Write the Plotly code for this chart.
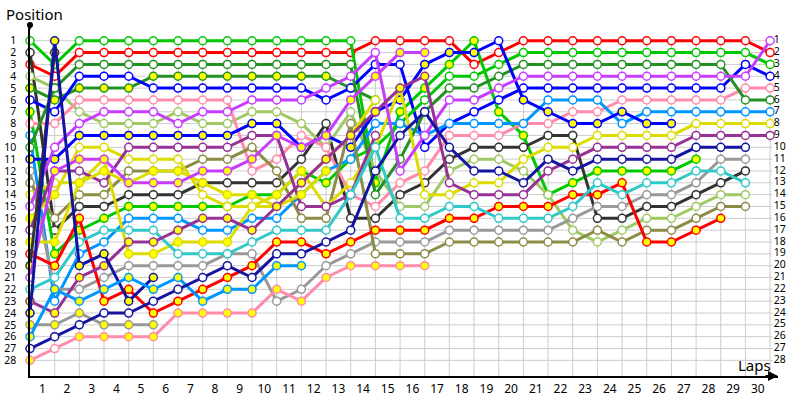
import plotly.graph_objects as go

laps = list(range(0, 31))
lap_labels = [str(i) for i in range(1, 31)]
positions = list(range(1, 29))

# position per lap (index 0 = grid), fill: o = open, y = yellow
red_a = [3,4,2,2,2,2,2,2,2,2,2,2,2,2,1,1,1,1,3,2,1,1,1,1,1,1,1,1,1,1,2]
red_a_fill = "o"
green_a = [1,3,1,1,1,1,1,1,1,1,1,1,1,1,13,7,5,3,1,7,9,14,13,12,12,12,12,11]
green_a_fill = "oooooooooooooo" + "y"
black_a = [2,17,15,15,14,14,14,13,13,13,13,11,8,16,16,14,13,11,10,10,10,9,9,16,16,15,15,14,13,12]
black_a_fill = "o"
lgreen_a = [4,5,7,8,8,8,7,8,8,7,7,8,10,7,12,15,15,12,11,11,12,14,17,18,17,16,16,15,14,14]
lgreen_a_fill = "o"
dkgreen_a = [5,6,5,5,5,4,4,4,4,4,4,4,4,5,6]
dkgreen_a_fill = "y"
blue_a = [6,7,4,4,4,5,5,5,5,5,5,5,6,5,3,3,10,8,7,6,5,5,5,5,5,5,5,5,5,3,4]
blue_a_fill = "o"
green_b = [7,19,17,16,15,15,15,15,15,14,14,12,13,11,10,8,6,4,4,3,2,2,2,2,2,2,2,2,2,2,3]
green_b_fill = "yyyyyyyyyyyyyyyy" + "o"
pink_a = [8,8,6,6,6,6,6,6,6,12,11,9,10,14,15,13,12,9,9,9,8,8,7,7,6,6,6,6,6,5,5]
pink_a_fill = "o"
azure_a = [9,23,19,18,16,16,16,17,17,16,16,14,12,11,8,8,9,8,8,8,8,6,6,6,8,7,7,7,7,7,7]
azure_a_fill = "o"
dkgreen_b = [10,5,3,3,3,3,3,3,3,3,3,3,3,3,14,11,7,5,5,4,3,3,3,3,3,3,3,3,3,6,6]
dkgreen_b_fill = "o"
blue_b = [11,11,9,9,9,9,9,9,9,8,8,10,9,10,7,6,3,2,2,1,6,7,8,8,7,8,8]
blue_b_fill = "yyyyyyyyyyyyyyyyyyyoy"
gray_a = [12,22,22,21,20,20,20,20,19,19,23,22,20,19,18,18,18,17,17,17,17,17,16,15,15,14,14,13,11,11]
gray_a_fill = "o"
olive_a = [13,16,14,14,12,12,12,11,11,10,12,16,16,8,19,19,19,18,18,18,18,18,18,17,18,17,17,16,15,15]
olive_a_fill = "o"
yellow_a = [14,13,13,11,19,19,18,18,18,15,14,12,15,13,10,5,14,14,13,13,11,10,10,9,9,9,9,8,8,8,8]
yellow_a_fill = "ooooyyyyyyyyoo" + "o"
lpurple_a = [15,10,8,7,7,7,8,7,7,6,6,6,5,4,2,12,9,6,6,5,4,4,4,4,4,4,4,4,4,4,1]
lpurple_a_fill = "o"
yellow_b = [16,14,10,10,11,11,11,14,15,15,15,13,11,9,6]
yellow_b_fill = "yyo"
purple_b = [17,12,12,13,10,10,10,10,10,9,9,15,15,14,9]
purple_b_fill = "o"
yellow_c = [18,18,13,12,13,12,12,13,14,14,15,14,12]
yellow_c_fill = "y"
red_b = [19,20,16,23,22,24,23,22,21,20,18,18,19,18,17,17,17,16,16,15,15,15,14,14,13,18,18,17,16]
red_b_fill = "oy"
black_b = [20,2]
black_b_fill = "y"
lpurple_b = [21,12,11,11,13,13,13,12,12,11,9,10,9,6,4,2,2]
lpurple_b_fill = "oy"
cyan_a = [22,21,18,17,17,17,19,19,19,18,17,17,17,14,10,16,16,15,15,16,16,16,15,13,14,13,13,12,12,13]
cyan_a_fill = "o"
purple_a = [23,24,21,20,18,18,17,16,16,17,15,13,11,9,7,5,4,13,14,14,14,12,11,10,10,10,10,9,9,9,9]
purple_a_fill = "yyyyyyyyyyyyyyyyy" + "o"
navy_a = [24,1,20,19,23,21]
navy_a_fill = "y"
gray_b = [25,25,24,25,25,25]
gray_b_fill = "y"
azure_b = [26,22,23,22,21,22,21,23,22,22,20,20]
azure_b_fill = "y"
navy_b = [27,26,25,24,24,23,22,21,20,21,19,19,18,17,12,9,7,10,12,12,13,11,12,11,11,11,11,10,10,10]
navy_b_fill = "o"
pink_b = [28,27,26,26,26,26,24,24,24,24,22,23,21,20,20,20,20]
pink_b_fill = "yo" + "y"

drivers = [
    (red_a, red_a_fill, "#ff0000"),
    (green_a, green_a_fill, "#00c800"),
    (black_a, black_a_fill, "#333333"),
    (lgreen_a, lgreen_a_fill, "#a0c864"),
    (dkgreen_a, dkgreen_a_fill, "#239123"),
    (blue_a, blue_a_fill, "#0000ff"),
    (green_b, green_b_fill, "#00c800"),
    (pink_a, pink_a_fill, "#ff8caa"),
    (azure_a, azure_a_fill, "#0096ff"),
    (dkgreen_b, dkgreen_b_fill, "#239123"),
    (blue_b, blue_b_fill, "#0000ff"),
    (gray_a, gray_a_fill, "#999999"),
    (olive_a, olive_a_fill, "#8c8c46"),
    (yellow_a, yellow_a_fill, "#dcdc00"),
    (lpurple_a, lpurple_a_fill, "#c83cff"),
    (yellow_b, yellow_b_fill, "#dcdc00"),
    (purple_b, purple_b_fill, "#963296"),
    (yellow_c, yellow_c_fill, "#dcdc00"),
    (red_b, red_b_fill, "#ff0000"),
    (black_b, black_b_fill, "#333333"),
    (lpurple_b, lpurple_b_fill, "#c83cff"),
    (cyan_a, cyan_a_fill, "#32c8c8"),
    (purple_a, purple_a_fill, "#963296"),
    (navy_a, navy_a_fill, "#1414a0"),
    (gray_b, gray_b_fill, "#999999"),
    (azure_b, azure_b_fill, "#0096ff"),
    (navy_b, navy_b_fill, "#1414a0"),
    (pink_b, pink_b_fill, "#ff8caa"),
]

fig = go.Figure()

# grid
for p in positions:
    fig.add_shape(type="line", x0=0, x1=30.1, y0=p, y1=p, layer="below",
                  line=dict(color="#cccccc", width=1))
for lap in laps[1:]:
    fig.add_shape(type="line", x0=lap, x1=lap, y0=0.85, y1=29.4, layer="below",
                  line=dict(color="#cccccc", width=1))

for pos, fill, color in drivers:
    fill = (fill + fill[-1] * 40)[:len(pos)]
    fig.add_trace(go.Scatter(
        x=laps[:len(pos)], y=pos, mode="lines+markers",
        line=dict(color=color, width=3),
        marker=dict(size=8, color=["#ffff00" if f == "y" else "white" for f in fill],
                    line=dict(color=color, width=1.5)),
        showlegend=False, hoverinfo="skip", cliponaxis=False,
    ))

# right-hand position labels
fig.add_trace(go.Scatter(
    x=[30.15] * len(positions), y=positions, mode="text",
    text=[str(p) for p in positions], textposition="middle right",
    textfont=dict(family="Noto Sans", size=10.5, color="#000000"),
    showlegend=False, hoverinfo="skip", cliponaxis=False,
))

fig.update_layout(
    width=800, height=400,
    margin=dict(l=30, r=22, t=25, b=24),
    plot_bgcolor="white", paper_bgcolor="white",
    font=dict(family="Noto Sans", color="#000000"),
    xaxis=dict(range=[0, 30.32], showgrid=False, zeroline=False, automargin=False,
               showline=True, linecolor="black", linewidth=2,
               tickvals=[i - 0.5 for i in range(1, 31)], ticktext=lap_labels,
               ticks="", tickfont=dict(size=12), ticklabelstandoff=1),
    yaxis=dict(range=[29.32, -0.33], showgrid=False, zeroline=False, automargin=False,
               showline=True, linecolor="black", linewidth=1.5,
               tickvals=positions, ticktext=[str(p) for p in positions],
               ticks="", tickfont=dict(size=10.5), ticklabelstandoff=10),
    annotations=[
        dict(text="Position", xref="paper", yref="paper", x=-0.035, y=1.03,
             xanchor="left", yanchor="middle", showarrow=False,
             font=dict(size=15)),
        dict(text="Laps", xref="paper", yref="paper", x=0.993, y=0.03,
             xanchor="right", yanchor="middle", showarrow=False,
             font=dict(size=15)),
        dict(xref="paper", yref="paper", x=1.0, y=0, ax=-14, ay=0,
             showarrow=True, arrowhead=2, arrowsize=1, arrowwidth=2,
             arrowcolor="black", text=""),
        dict(xref="paper", yref="paper", x=0, y=1.0, ax=0, ay=6,
             showarrow=True, arrowhead=6, arrowsize=1, arrowwidth=1.5,
             arrowcolor="black", text=""),
    ],
)

fig.write_html("out.html", config={"displayModeBar": False},
               post_script="document.body.style.margin = '0';")
